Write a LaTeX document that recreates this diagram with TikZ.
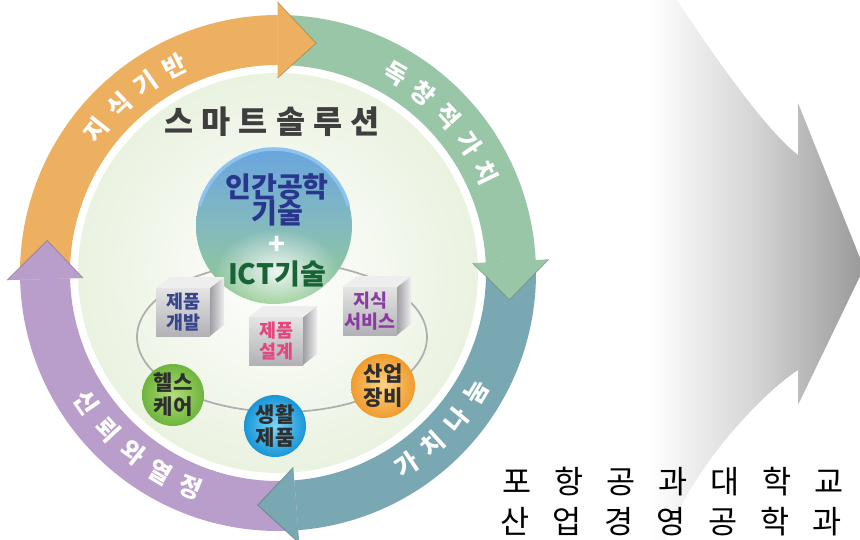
\documentclass[tikz,border=0pt]{standalone}
\usepackage{fontspec}
\setmainfont{Noto Sans CJK KR}
\usetikzlibrary{fadings}
\definecolor{ringorange}{RGB}{237,175,96}
\definecolor{ringgreen}{RGB}{152,198,166}
\definecolor{ringteal}{RGB}{121,168,179}
\definecolor{ringpurple}{RGB}{185,157,203}
\definecolor{discedge}{RGB}{234,242,224}
\definecolor{titlegray}{RGB}{62,62,62}
\definecolor{sphtop}{RGB}{105,165,222}
\definecolor{sphmid}{RGB}{132,186,190}
\definecolor{sphbot}{RGB}{145,203,140}
\definecolor{sphrim}{RGB}{140,195,240}
\definecolor{humanblue}{RGB}{40,55,140}
\definecolor{ictgreen}{RGB}{25,100,55}
\definecolor{devblue}{RGB}{55,70,140}
\definecolor{designpink}{RGB}{228,70,125}
\definecolor{servpurple}{RGB}{140,60,160}
\definecolor{cubetop}{RGB}{228,228,228}
\definecolor{cubebot}{RGB}{178,178,182}
\definecolor{cubelid}{RGB}{238,238,238}
\definecolor{cubeside}{RGB}{158,158,164}
\definecolor{health}{RGB}{110,180,60}
\definecolor{healthlight}{RGB}{178,222,122}
\definecolor{living}{RGB}{25,150,215}
\definecolor{livinglight}{RGB}{125,212,246}
\definecolor{industry}{RGB}{240,155,45}
\definecolor{industrylight}{RGB}{253,212,132}
\definecolor{linegray}{RGB}{175,175,175}
\tikzfading[name=glowfade,inner color=transparent!0,outer color=transparent!100]

\begin{document}
\begin{tikzpicture}[x=0.02cm,y=0.02cm,
ringtxt/.style={text=white,font=\bfseries\fontsize{14}{14}\selectfont,inner sep=0pt},
spheretxt/.style={font=\bfseries\fontsize{16}{16}\selectfont,inner sep=0pt},
cubetxt/.style={font=\bfseries\fontsize{10.5}{12}\selectfont,align=center,inner sep=0pt},
balltxt/.style={text=black!82,font=\bfseries\fontsize{12}{13.6}\selectfont,align=center,inner sep=0pt},
schooltxt/.style={font={\fontsize{18}{18}\selectfont\spaceskip=13pt\relax},inner sep=0pt},
cube/.pic={
\shade[top color=cubetop,bottom color=cubebot] (-27,-24) rectangle (27,24);
\shade[left color=cubeside,right color=cubelid] (27,-24) -- (41,-13) -- (41,35) -- (27,24) -- cycle;
\fill[cubelid] (-27,24) -- (-13,35) -- (41,35) -- (27,24) -- cycle;
}
]
\useasboundingbox (0,0) rectangle (860,539);
\clip (0,0) rectangle (860,539);

\coordinate (c) at (278,266);
\shade[inner color=white,outer color=discedge] (c) circle[radius=200];

% four arrow bands round the disc, heads on top
\begin{scope}[shift={(c)}]
\foreach \s/\e/\col in {181.5/90.1/ringorange,90.1/2.9/ringgreen,2.9/-85.5/ringteal,-85.5/-178.5/ringpurple}
\fill[\col] (\s:258) arc[start angle=\s,end angle=\e,radius=258] -- (\e:208) arc[start angle=\e,end angle=\s,radius=208] -- cycle;
\foreach \t/\col in {80.6/ringorange,-6.6/ringgreen,-95/ringteal,172/ringpurple}{
\fill[\col] ({\t+9.5}:195) -- (\t:233) -- ({\t+9.5}:271) -- cycle;
\draw[\col!70!black,opacity=0.6,line width=0.5pt] ({\t+9.5}:195) -- (\t:233) -- ({\t+9.5}:271);
}
\foreach \ch [count=\i] in {지,식,기,반}{
\pgfmathsetmacro\a{141.8-8.4*(\i-1)}
\node[ringtxt,rotate=\a-90] (base\i) at (\a:231) {\ch};
}
\foreach \ch [count=\i] in {독,창,적,가,치}{
\pgfmathsetmacro\a{59.4-8.4*(\i-1)}
\node[ringtxt,rotate=\a-90] (value\i) at (\a:231) {\ch};
}
\foreach \ch [count=\i] in {가,치,나,눔}{
\pgfmathsetmacro\a{-56.2+8.4*(\i-1)}
\node[ringtxt,rotate=\a+90] (share\i) at (\a:231) {\ch};
}
\foreach \ch [count=\i] in {신,뢰,와,열,정}{
\pgfmathsetmacro\a{-145.8+8.4*(\i-1)}
\node[ringtxt,rotate=\a+90] (trust\i) at (\a:231) {\ch};
}
\end{scope}

\node[font=\bfseries\fontsize{18}{18}\selectfont\addfontfeature{LetterSpace=26},text=titlegray] (title) at (272,417) {스마트솔루션};

\draw[linegray,line width=1pt] (282,202) ellipse[x radius=145,y radius=75];

% central sphere
\shade[top color=sphtop,bottom color=sphbot,middle color=sphmid] (274,313) circle[radius=78];
\fill[white,opacity=0.85,path fading=glowfade] (277,268) ellipse[x radius=62,y radius=42];
\draw[sphrim,line width=2pt] (274,313) ++(15:77) arc[start angle=15,end angle=165,radius=77];
\node[spheretxt,text=humanblue] (human) at (277,352) {인간공학};
\node[spheretxt,text=humanblue] (skill) at (277,326) {기술};
\node[spheretxt,text=white] (plus) at (277,294) {+};
\node[spheretxt,text=ictgreen] (ict) at (277,265) {ICT기술};

\pic at (183,227) {cube};
\node[cubetxt,text=devblue] (dev) at (183,227) {제품\\개발};
\pic at (276,198) {cube};
\node[cubetxt,text=designpink] (design) at (276,198) {제품\\설계};
\pic at (370,228) {cube};
\node[cubetxt,text=servpurple] (serv) at (370,228) {지식\\서비스};

\shade[inner color=healthlight,outer color=health] (173,144) circle[radius=31];
\node[balltxt] (care) at (173,144) {헬스\\케어};
\shade[inner color=livinglight,outer color=living] (275,113) circle[radius=31];
\node[balltxt] (goods) at (275,113) {생활\\제품};
\shade[inner color=industrylight,outer color=industry] (383,153) circle[radius=32];
\node[balltxt] (equip) at (383,153) {산업\\장비};

% grey arrow on the right
\shade[left color=white,right color=black!40,middle color=black!17]
(650,554) -- (668,554) -- (677,539) .. controls (707,493) and (765,409) .. (798,384)
-- (798,436) -- (864,271) -- (798,134) -- (798,169)
.. controls (760,144) and (690,69) .. (667,0) -- (660,-16) -- (650,-16) -- cycle;

\node[schooltxt] (univ) at (673,57) {포 항 공 과 대 학 교};
\node[schooltxt] (dept) at (671,17) {산 업 경 영 공 학 과};
\end{tikzpicture}
\end{document}
